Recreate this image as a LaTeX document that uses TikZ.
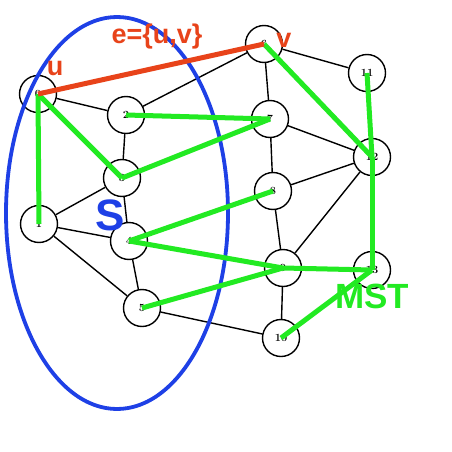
\documentclass[tikz,border=0pt]{standalone}
\usepackage{fontspec}
\usetikzlibrary{backgrounds}
\newfontfamily\arialf{Liberation Sans}
\begin{document}
\begin{tikzpicture}[x=1pt,y=-1pt,
  vtx/.style={circle,draw=black,line width=1.4pt,fill=white,minimum size=37pt,inner sep=0pt,font=\bfseries\fontsize{11}{11}\selectfont},
  edge/.style={black,line width=1.4pt},
  mst/.style={color=mstgreen,line width=5pt},
  cutedge/.style={color=redlab,line width=5pt}]
\definecolor{mstgreen}{HTML}{22EA22}
\definecolor{redlab}{HTML}{E8431A}
\definecolor{blueS}{HTML}{1E40E6}
\useasboundingbox (0,0) rectangle (452,452);
% vertices
\node[vtx] (u) at (38,94) {0};
\node[vtx] (n2) at (126,115) {2};
\node[vtx] (n3) at (122,178) {3};
\node[vtx] (n1) at (39,224) {1};
\node[vtx] (n4) at (129,241) {4};
\node[vtx] (n5) at (142,308) {5};
\node[vtx] (v) at (264,44) {6};
\node[vtx] (n7) at (270,119) {7};
\node[vtx] (n8) at (273,191) {8};
\node[vtx] (n9) at (283,268) {9};
\node[vtx] (n10) at (281,338) {10};
\node[vtx] (n11) at (367,73) {11};
\node[vtx] (n12) at (372,157) {12};
\node[vtx] (n13) at (372,270) {13};
% black edges, behind the vertices
\begin{pgfonlayer}{background}
\fill[white] (0,0) rectangle (452,452);
\draw[edge] (u) -- (n2);
\draw[edge] (n2) -- (v);
\draw[edge] (n2) -- (n3);
\draw[edge] (n2) -- (n7);
\draw[edge] (v) -- (n7);
\draw[edge] (v) -- (n11);
\draw[edge] (n7) -- (n12);
\draw[edge] (n7) -- (n8);
\draw[edge] (n3) -- (n1);
\draw[edge] (n3) -- (n4);
\draw[edge] (n1) -- (n4);
\draw[edge] (n1) -- (n5);
\draw[edge] (n4) -- (n5);
\draw[edge] (n5) -- (n10);
\draw[edge] (n8) -- (n12);
\draw[edge] (n8) -- (n9);
\draw[edge] (n9) -- (n12);
\draw[edge] (n9) -- (n10);
\end{pgfonlayer}
% cut ellipse S
\draw[color=blueS,line width=3.8pt] (117,213) ellipse [x radius=111, y radius=196];
% MST edges
\draw[mst] (u.center) -- (n1.center);
\draw[mst] (u.center) -- (n3.center);
\draw[mst] (n2.center) -- (n7.center);
\draw[mst] (n3.center) -- (n7.center);
\draw[mst] (v.center) -- (n12.center);
\draw[mst] (n11.center) -- (n12.center);
\draw[mst] (n12.center) -- (n13.center);
\draw[mst] (n4.center) -- (n8.center);
\draw[mst] (n4.center) -- (n9.center);
\draw[mst] (n5.center) -- (n9.center);
\draw[mst] (n9.center) -- (n13.center);
\draw[mst] (n13.center) -- (n10.center);
% edge e = {u,v}
\draw[cutedge] (u.center) -- (v.center);
% labels
\node[color=redlab,font=\arialf\bfseries\fontsize{27}{27}\selectfont] (elab) at (157,37) {e=\{u,v\}};
\node[color=redlab,font=\arialf\bfseries\fontsize{27}{27}\selectfont] (ulab) at (55,68) {u};
\node[color=redlab,font=\arialf\bfseries\fontsize{27}{27}\selectfont] (vlab) at (284,40) {v};
\node[color=blueS,font=\arialf\bfseries\fontsize{44}{44}\selectfont] (Slab) at (110,215) {S};
\node[color=mstgreen,font=\arialf\bfseries\fontsize{35}{35}\selectfont] (mstlab) at (372,296) {MST};
\end{tikzpicture}
\end{document}
